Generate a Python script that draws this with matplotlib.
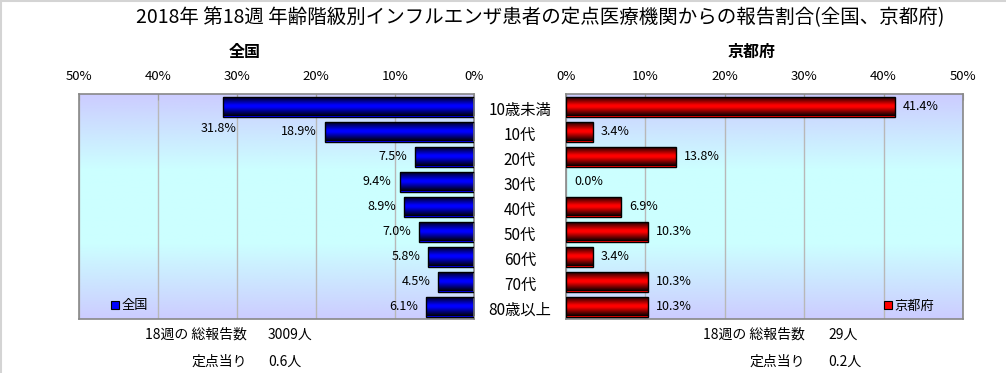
import numpy as np
import matplotlib
matplotlib.use('Agg')
import matplotlib.pyplot as plt
from matplotlib.colors import LinearSegmentedColormap
from matplotlib.patches import Patch
from matplotlib.lines import Line2D
import matplotlib.transforms as mtransforms

plt.rcParams['font.family'] = ['Noto Sans CJK JP', 'DejaVu Sans']

# data
age_groups = ['10歳未満', '10代', '20代', '30代', '40代', '50代', '60代', '70代', '80歳以上']
zenkoku = [31.8, 18.9, 7.5, 9.4, 8.9, 7.0, 5.8, 4.5, 6.1]
kyoto = [41.4, 3.4, 13.8, 0.0, 6.9, 10.3, 3.4, 10.3, 10.3]
ticks = [0, 10, 20, 30, 40, 50]
title = '2018年 第18週 年齢階級別インフルエンザ患者の定点医療機関からの報告割合(全国、京都府)'
left_name = '全国'
right_name = '京都府'
left_total, left_per = '3009人', '0.6人'
right_total, right_per = '29人', '0.2人'

W, H = 1006, 373
fig = plt.figure(figsize=(W / 100, H / 100), dpi=100)

def fx(px):
    return px / W

def fy(py):
    return 1 - py / H

ax_l = fig.add_axes([fx(79), fy(319), fx(474 - 79), (319 - 94) / H])
ax_r = fig.add_axes([fx(566), fy(319), fx(963 - 566), (319 - 94) / H])

bg = LinearSegmentedColormap.from_list('bg', ['#ccccff', '#ccffff', '#ccffff', '#ccccff'])
grad = np.linspace(0, 1, 256).reshape(-1, 1)

y = np.arange(len(age_groups))


def shaded_bars(ax, vals, color):
    cmap = LinearSegmentedColormap.from_list(
        'b', [(0, '#000000'), (0.45, color), (0.55, color), (1, '#000000')])
    bars = ax.barh(y, vals, height=0.8, color=color, edgecolor='none', linewidth=0, zorder=2)
    for b in bars:
        if b.get_width() == 0:
            continue
        x0, y0 = b.get_x(), b.get_y()
        im = ax.imshow(grad, cmap=cmap, aspect='auto', zorder=2.5,
                       extent=[x0, x0 + b.get_width(), y0 + b.get_height(), y0])
        im.set_clip_path(b)
        ax.add_patch(plt.Rectangle((x0, y0), b.get_width(), b.get_height(),
                                   fill=False, edgecolor='black', lw=1, zorder=3))
    return bars


for ax, vals, color, lim in [(ax_l, zenkoku, '#0000ff', (50, 0)),
                             (ax_r, kyoto, '#ff0000', (0, 50))]:
    ax.imshow(grad, cmap=bg, aspect='auto', extent=[0, 1, 0, 1],
              transform=ax.transAxes, zorder=0)
    shaded_bars(ax, vals, color)
    ax.set_xlim(*lim)
    ax.set_ylim(len(age_groups) - 0.5, -0.5)
    ax.set_yticks([])
    ax.xaxis.tick_top()
    ax.set_xticks(ticks)
    ax.set_xticklabels([f'{t}%' for t in ticks], fontsize=9.5)
    ax.tick_params(axis='x', direction='in', length=4, color='#a0a0a0', pad=8)
    ax.grid(axis='x', color='#b8b8b8', lw=1)
    ax.set_axisbelow(True)
    for s in ax.spines.values():
        s.set_color('#888888')
        s.set_linewidth(1.2)

# value labels
for i, v in enumerate(zenkoku):
    off = (14, -22) if i == 0 else (-8, 0)
    ax_l.annotate(f'{v:.1f}%', xy=(v, i), xytext=off, textcoords='offset pixels',
                  ha='right', va='center', fontsize=9, zorder=5)
for i, v in enumerate(kyoto):
    ax_r.annotate(f'{v:.1f}%', xy=(v, i), xytext=(8, 0), textcoords='offset pixels',
                  ha='left', va='center', fontsize=9, zorder=5)

# category labels between the panels
tr = mtransforms.blended_transform_factory(fig.transFigure, ax_l.transData)
for i, lab in enumerate(age_groups):
    fig.text(fx(520), i + 0.15, lab, transform=tr, ha='center', va='center', fontsize=11)

# titles
fig.text(fx(540), fy(18), title, ha='center', va='center', fontsize=14)
fig.text(fx(245), fy(52), left_name, ha='center', va='center', fontsize=11.5, fontweight='bold')
fig.text(fx(752), fy(52), right_name, ha='center', va='center', fontsize=11.5, fontweight='bold')

# legends
for ax, name, color, bx in [(ax_l, left_name, '#0000ff', 0.08), (ax_r, right_name, '#ff0000', 0.8)]:
    h = Patch(facecolor=color, edgecolor='black', lw=0.8)
    ax.legend([h], [name], loc='center left', bbox_to_anchor=(bx, 0.058), frameon=False,
              fontsize=9.5, handlelength=0.6, handleheight=0.6, handletextpad=0.2,
              borderpad=0, borderaxespad=0)

# footer
for xl, xv, tot, per in [(247, 268, left_total, left_per), (805, 828, right_total, right_per)]:
    fig.text(fx(xl), fy(335), '18週の 総報告数', ha='right', va='center', fontsize=10)
    fig.text(fx(xv), fy(335), tot, ha='left', va='center', fontsize=10)
    fig.text(fx(xl), fy(362), '定点当り', ha='right', va='center', fontsize=10)
    fig.text(fx(xv), fy(362), per, ha='left', va='center', fontsize=10)

# light frame on top and left
fig.add_artist(Line2D([0, 1], [0.998, 0.998], transform=fig.transFigure, color='#d4d4d4', lw=1.5))
fig.add_artist(Line2D([0.001, 0.001], [0, 1], transform=fig.transFigure, color='#d4d4d4', lw=1.5))

fig.savefig('out.png', dpi=100)
